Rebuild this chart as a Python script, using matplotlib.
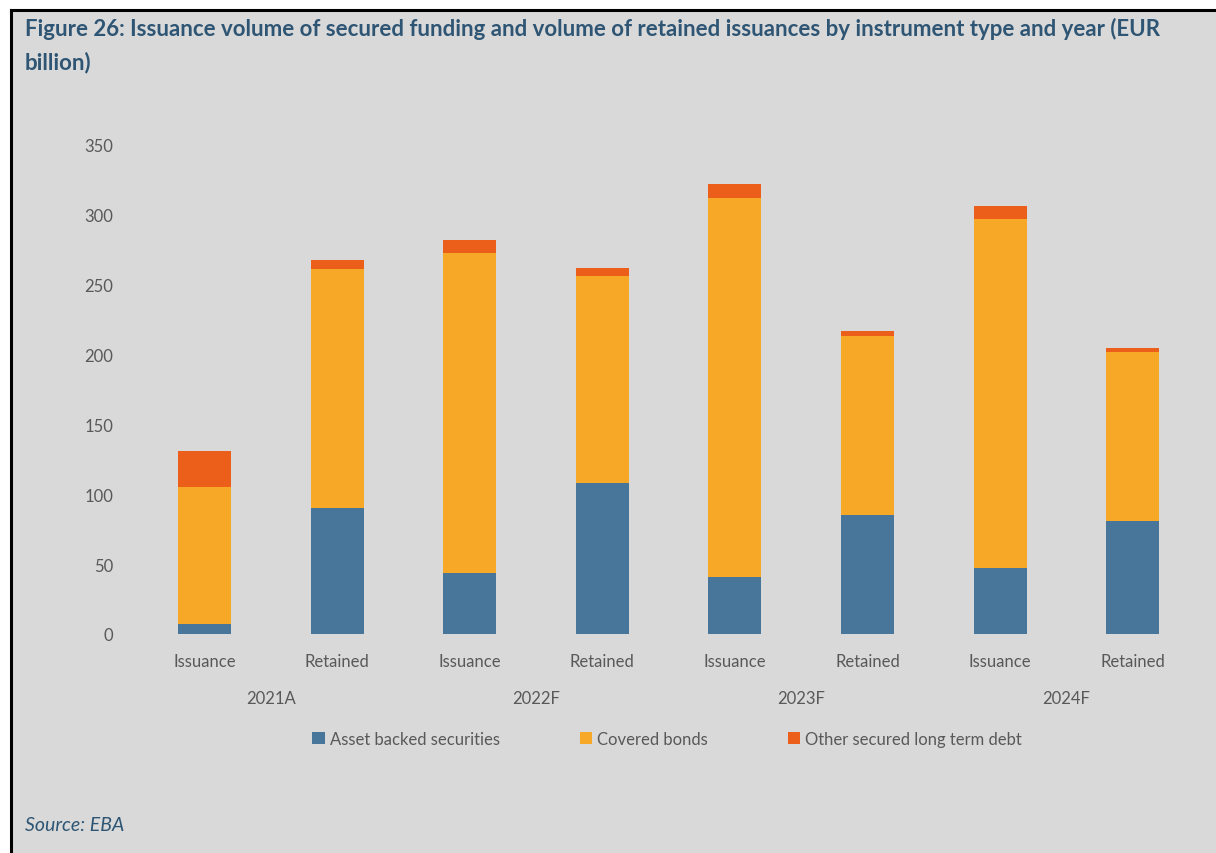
import matplotlib
matplotlib.use("Agg")
import matplotlib.pyplot as plt
from matplotlib.patches import Rectangle
from matplotlib.lines import Line2D
import numpy as np

plt.rcParams["font.family"] = ["Lato", "DejaVu Sans"]

# data (EUR billion)
bar_labels = ["Issuance", "Retained"] * 4
years = ["2021A", "2022F", "2023F", "2024F"]
abs_vals = [7, 90, 44, 108, 41, 85, 47, 81]
covered_vals = [98, 171, 229, 148, 271, 128, 250, 121]
other_vals = [26, 7, 9, 6, 10, 4, 9.5, 3]
series_names = ["Asset backed securities", "Covered bonds",
                "Other secured long term debt"]

BG = "#D9D9D9"
C_ABS = "#48769A"
C_COV = "#F7A826"
C_OTH = "#EC5F1A"
TITLE_C = "#2E5574"
TXT = "#595959"

W, H = 1216, 854
fig = plt.figure(figsize=(W / 100, H / 100), dpi=100)
fig.patch.set_facecolor("white")

# grey panel with black frame on left / top
x0, y0 = 12 / W, 1 - 12 / H
fig.patches.append(Rectangle((x0, 0), 1 - x0, y0, transform=fig.transFigure,
                             facecolor=BG, edgecolor="none", zorder=-10))
fig.lines.append(Line2D([10.5 / W, 10.5 / W], [0, 1 - 10.5 / H], transform=fig.transFigure,
                        color="black", linewidth=2.2))
fig.lines.append(Line2D([10.5 / W, 1], [1 - 10.5 / H, 1 - 10.5 / H], transform=fig.transFigure,
                        color="black", linewidth=2.2))

ax = fig.add_axes([138.2 / W, (H - 635) / H, (1199 - 138.2) / W, 489 / H])
ax.set_facecolor("none")

x = np.arange(len(bar_labels))
abs_a = np.array(abs_vals)
cov_a = np.array(covered_vals)
oth_a = np.array(other_vals)
bw = 0.4
ax.bar(x, abs_a, bw, color=C_ABS, label=series_names[0])
ax.bar(x, cov_a, bw, bottom=abs_a, color=C_COV, label=series_names[1])
ax.bar(x, oth_a, bw, bottom=abs_a + cov_a, color=C_OTH, label=series_names[2])

ax.set_xlim(-0.5, len(x) - 0.5)
ax.set_ylim(0, 350)
ax.set_yticks(range(0, 351, 50))
ax.set_xticks(x)
ax.set_xticklabels(bar_labels)
for s in ax.spines.values():
    s.set_visible(False)
ax.tick_params(axis="both", length=0, labelsize=12, labelcolor=TXT)
ax.tick_params(axis="y", pad=18)
ax.tick_params(axis="x", pad=14)

for i, yr in enumerate(years):
    ax.text(2 * i + 0.5, -0.13, yr, transform=ax.get_xaxis_transform(),
            ha="center", va="center", fontsize=12, color=TXT)

fig.legend(loc="center", bbox_to_anchor=(667 / W, 1 - 740 / H), ncol=3,
           frameon=False, fontsize=12, labelcolor=TXT, handlelength=0.75,
           handleheight=0.75, handletextpad=0.3, columnspacing=4.8)

fig.text(25 / W, 1 - 18 / H,
         "Figure 26: Issuance volume of secured funding and volume of retained "
         "issuances by instrument type and year (EUR\nbillion)",
         ha="left", va="top", fontsize=16, fontweight="bold",
         color=TITLE_C, linespacing=1.65)
fig.text(25 / W, 1 - 826 / H, "Source: EBA", ha="left", va="center",
         fontsize=14, fontstyle="italic", color=TITLE_C)

fig.savefig("out.png", dpi=100)
